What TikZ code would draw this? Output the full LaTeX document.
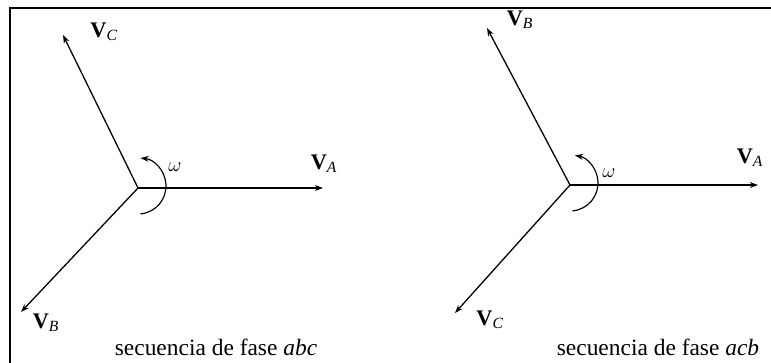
\documentclass[tikz,border=0pt]{standalone}
\usepackage{amsmath,amssymb}
\usepackage{fontspec}
\setmainfont{Liberation Serif}
\usetikzlibrary{arrows.meta,calc}

\tikzset{
  phasor/.style={line width=1.1pt,-{Stealth[length=7pt,width=5pt]}},
  spin/.style={line width=1pt,-{Stealth[length=7pt,width=5pt]}},
  vlabel/.style={font=\fontsize{19}{21}\selectfont},
  caption/.style={font=\fontsize{20}{22}\selectfont}
}
\newcommand{\phs}[1]{\textbf{V}\textsubscript{\itshape #1}}

\begin{document}
\begin{tikzpicture}[x=0.03cm,y=0.03cm]
  \useasboundingbox (0,0) rectangle (771,363);

  % frame
  \draw[line width=2.5pt] (10,0) -- (10,355) -- (771,355);

  % Sequence abc
  \coordinate (o) at (138,175);
  \coordinate (a) at (323,175);
  \coordinate (c) at (63,328);
  \coordinate (b) at (21,51);
  \draw[phasor] (o) -- (a);
  \draw[phasor] (o) -- (c);
  \draw[phasor] (o) -- (b);
  \draw[spin] ($(o)+(0,2)+(-85:0.84cm)$) arc[start angle=-85,end angle=85,radius=0.84cm];
  \node[vlabel] (la) at (324,199) {\phs{A}};
  \node[vlabel] (lc) at (104,331) {\phs{C}};
  \node[vlabel] (lb) at (46,40) {\phs{B}};
  \node[vlabel] (w) at (175,196) {$\omega$};
  \node[caption] (t1) at (216,16) {secuencia de fase \textit{abc}};

  % Sequence acb, moved to the right
  \begin{scope}[shift={(432,3)}]
    \coordinate (o2) at (138,175);
    \coordinate (a2) at (326,175);
    \coordinate (b2) at (55,332);
    \coordinate (c2) at (23,47);
    \draw[phasor] (o2) -- (a2);
    \draw[phasor] (o2) -- (b2);
    \draw[phasor] (o2) -- (c2);
    \draw[spin] ($(o2)+(0,2)+(-85:0.84cm)$) arc[start angle=-85,end angle=80,radius=0.84cm];
    \node[vlabel] (la2) at (318,202) {\phs{A}};
    \node[vlabel] (lb2) at (88,340) {\phs{B}};
    \node[vlabel] (lc2) at (58,40) {\phs{C}};
    \node[vlabel] (w2) at (177,187) {$\omega$};
    \node[caption] (t2) at (226,13) {secuencia de fase \textit{acb}};
  \end{scope}

\end{tikzpicture}
\end{document}
